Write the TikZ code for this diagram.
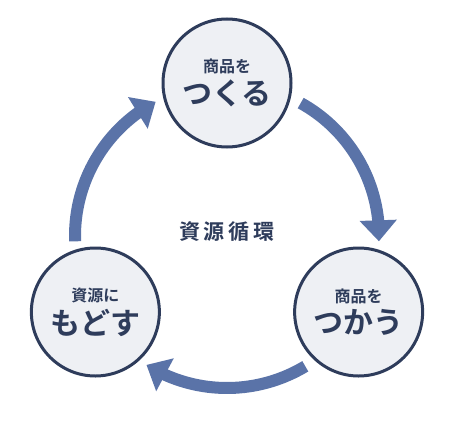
\documentclass[tikz,border=0pt]{standalone}
\usepackage{fontspec}
\newfontfamily\jpfont{Noto Sans CJK JP}[BoldFont={Noto Sans CJK JP Bold}]
\usetikzlibrary{arrows.meta,bending}
\definecolor{ringblue}{HTML}{5A73A8}
\definecolor{navy}{HTML}{2E3C5B}
\definecolor{paleface}{HTML}{EEF0F4}
\tikzset{
  stage/.style={circle, draw=navy, line width=3pt, fill=paleface,
    minimum size=128pt, inner sep=0pt, text=navy, font=\jpfont\bfseries, align=center},
  flow/.style={draw=ringblue, line width=12pt,
    -{Triangle[width=36pt,length=21pt,flex]}},
}
\newcommand{\smalltxt}[1]{{\fontsize{16}{18}\selectfont #1}\\[5pt]}
\newcommand{\bigtxt}[1]{{\fontsize{30}{32}\selectfont #1}}
\begin{document}
\begin{tikzpicture}[x=1pt,y=1pt]
    \useasboundingbox (0,0) rectangle (476,432);
    \coordinate (O) at (227,196);
    % arrows of the cycle
    \draw[flow] ([shift={(182:152)}]O) arc[start angle=182, end angle=118, radius=152];
    \draw[flow] ([shift={(61:152)}]O) arc[start angle=61, end angle=-2, radius=152];
    \draw[flow] ([shift={(-59:152)}]O) arc[start angle=-59, end angle=-122, radius=152];
    % three stages
    \node[stage] (make) at ([shift={(90:153)}]O) {\smalltxt{商品を}\bigtxt{つくる}};
    \node[stage] (use) at ([shift={(-30:152)}]O) {\smalltxt{商品を}\bigtxt{つかう}};
    \node[stage] (back) at ([shift={(-150:152)}]O) {\smalltxt{資源に}\bigtxt{もどす}};
    \node[text=navy, font=\jpfont\bfseries\fontsize{21}{23}\selectfont] (title) at ([yshift=4pt]O)
        {資\hspace{4pt}源\hspace{4pt}循\hspace{4pt}環};
\end{tikzpicture}
\end{document}
